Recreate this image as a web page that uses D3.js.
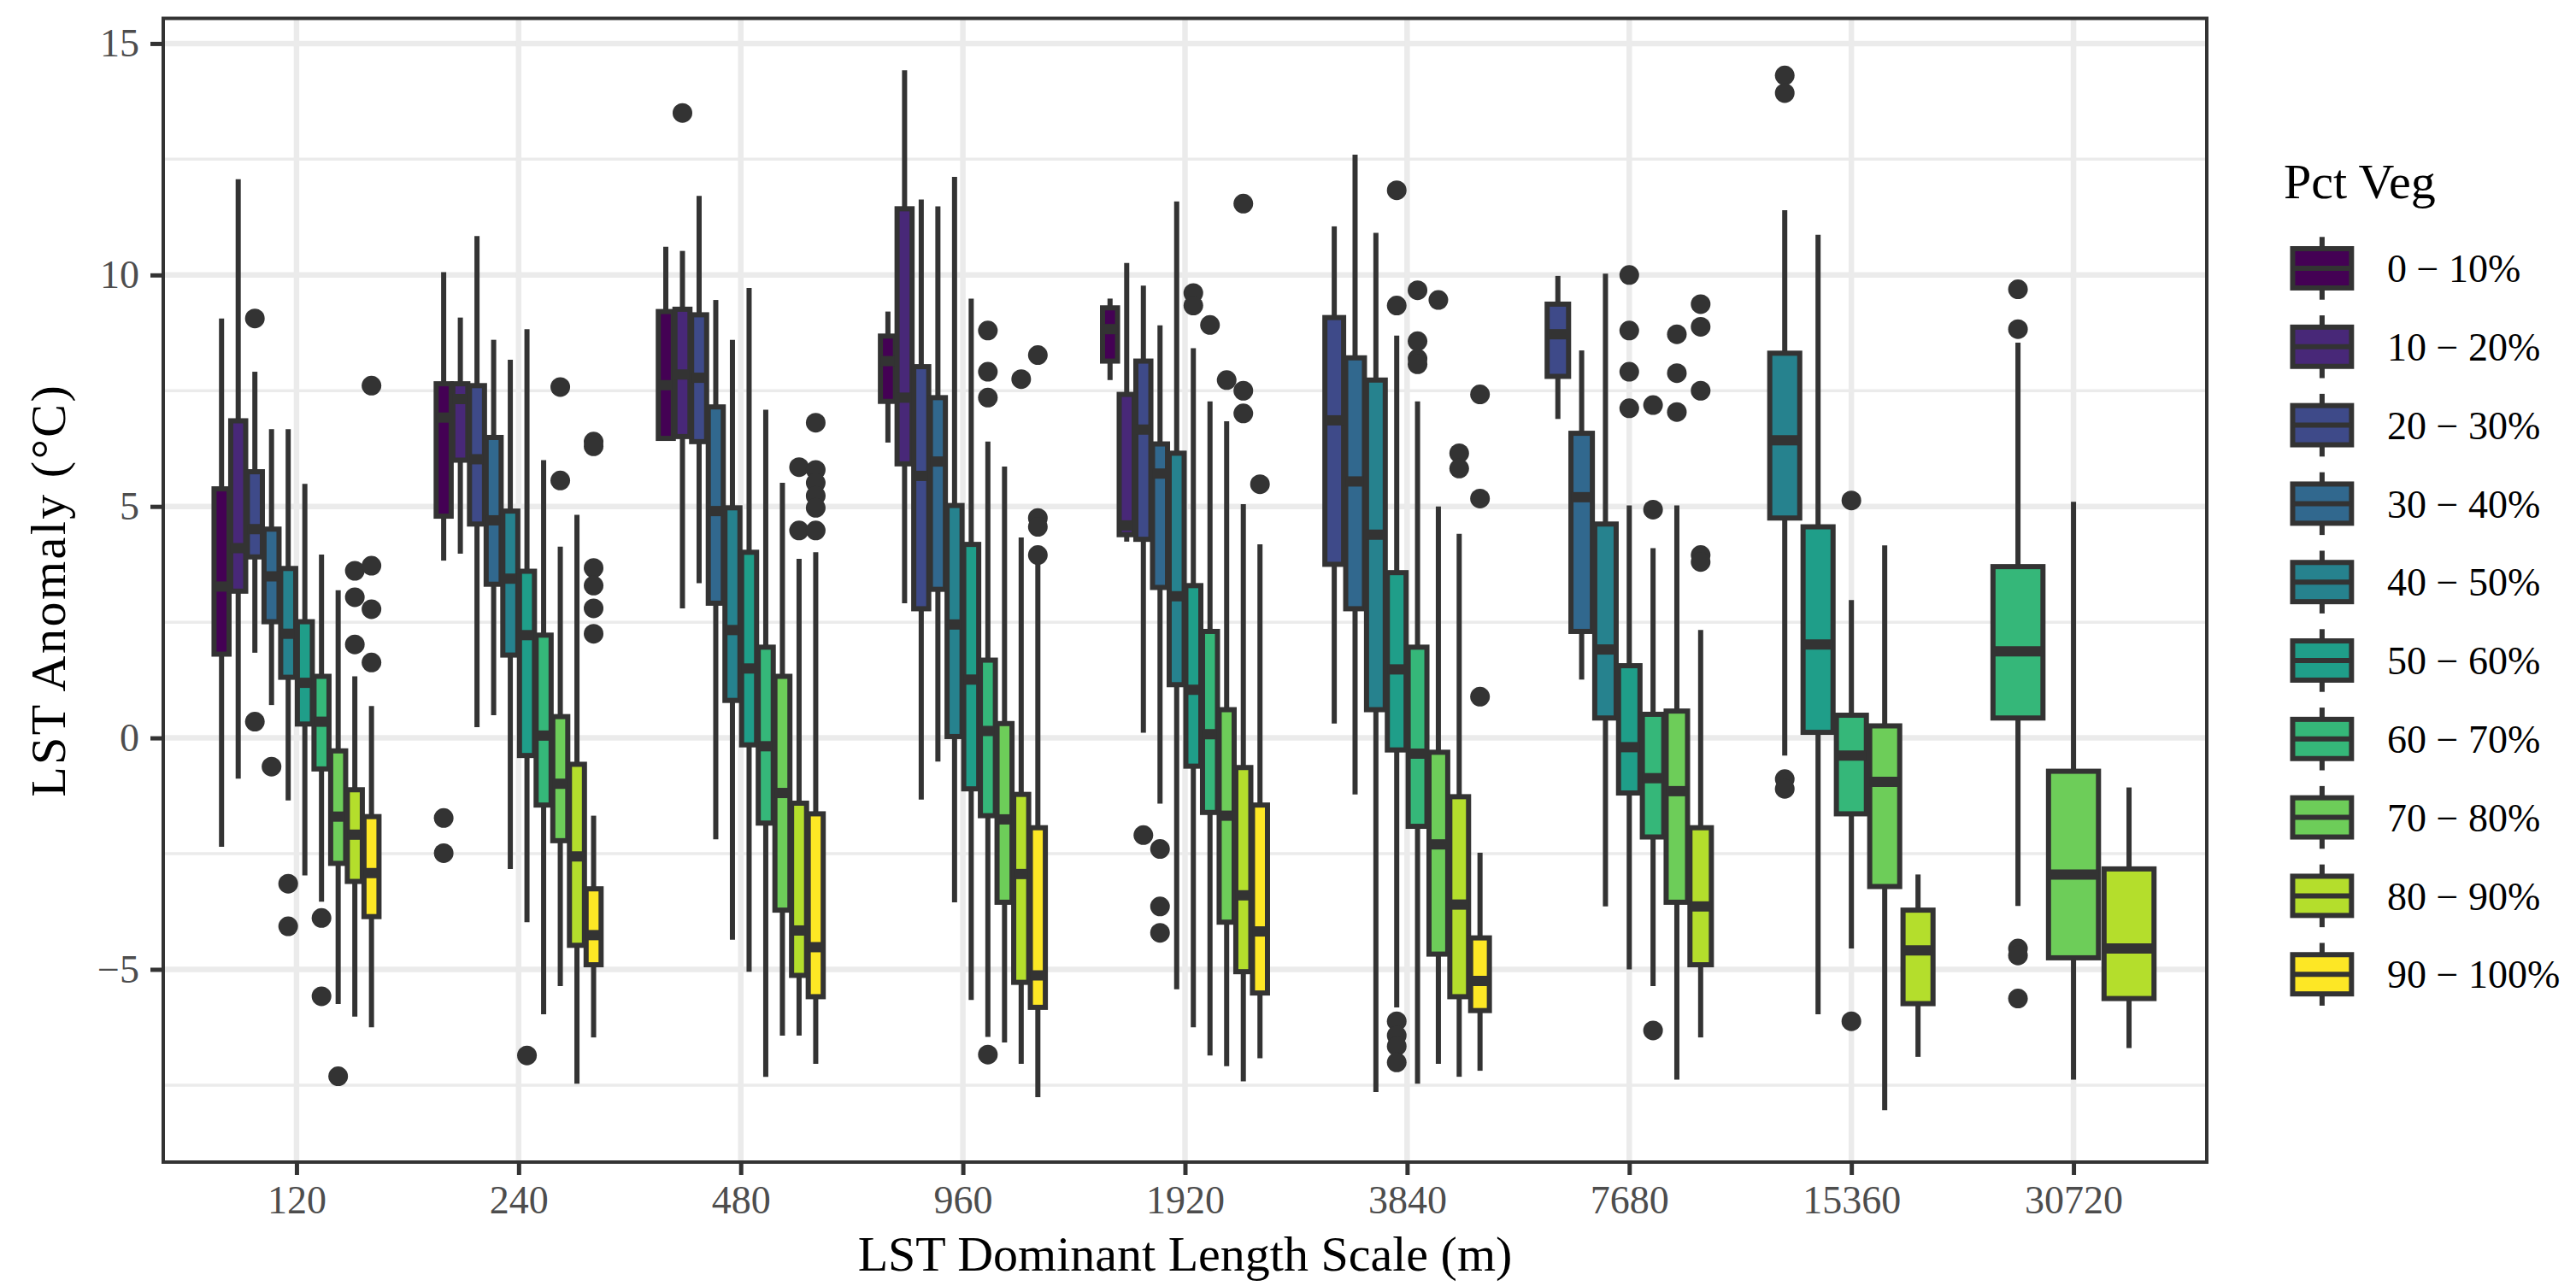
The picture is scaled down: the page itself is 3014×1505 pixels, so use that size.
<!DOCTYPE html>
<html>
<head>
<meta charset="utf-8">
<script src="https://cdn.jsdelivr.net/npm/d3@7"></script>
<style>
  body { margin: 0; background: #ffffff; }
  svg { display: block; }
</style>
</head>
<body>
<svg id="chart" width="3014" height="1505"></svg>
<script>
// ---------------- DATA ----------------
const groups = ["120", "240", "480", "960", "1920", "3840", "7680", "15360", "30720"];
const vegLevels = ["0 − 10%", "10 − 20%", "20 − 30%", "30 − 40%", "40 − 50%",
                   "50 − 60%", "60 − 70%", "70 − 80%", "80 − 90%", "90 − 100%"];
const yTicks = [-5, 0, 5, 10, 15];
const yTickLabels = ["−5", "0", "5", "10", "15"];
const yMinor = [-7.5, -2.5, 2.5, 7.5, 12.5];

// rows: [veg level index, lower whisker, Q1, median, Q3, upper whisker]
const stats120 = [
  [0, -2.35, 1.81, 3.27, 5.38, 9.06],
  [1, -0.88, 3.17, 4.10, 6.85, 12.07],
  [2, 1.84, 3.91, 4.51, 5.75, 7.91],
  [3, 0.71, 2.51, 3.49, 4.51, 6.67],
  [4, -1.35, 1.31, 2.25, 3.66, 6.67],
  [5, -2.97, 0.30, 1.19, 2.51, 5.49],
  [6, -3.54, -0.67, 0.35, 1.33, 3.96],
  [7, -5.75, -2.71, -1.70, -0.28, 3.19],
  [8, -6.02, -3.10, -2.09, -1.12, 1.33],
  [9, -6.25, -3.86, -2.92, -1.70, 0.69]
];
const stats240 = [
  [0, 3.83, 4.79, 6.92, 7.65, 10.06],
  [1, 3.98, 6.00, 7.32, 7.65, 9.08],
  [2, 0.23, 4.62, 6.02, 7.61, 10.84],
  [3, 0.49, 3.32, 4.70, 6.49, 8.60],
  [4, -2.83, 1.79, 3.44, 4.90, 8.17],
  [5, -3.98, -0.38, 2.22, 3.60, 8.83],
  [6, -5.97, -1.45, 0.05, 2.22, 6.00],
  [7, -5.36, -2.22, -0.99, 0.46, 4.13],
  [8, -7.47, -4.48, -2.56, -0.57, 4.82],
  [9, -6.47, -4.90, -4.26, -3.26, -1.68]
];
const stats480 = [
  [0, 6.45, 6.47, 7.62, 9.21, 10.61],
  [1, 2.80, 6.51, 7.85, 9.26, 10.52],
  [2, 3.34, 6.40, 7.78, 9.14, 11.71],
  [3, -2.19, 2.91, 4.90, 7.15, 9.46],
  [4, -4.36, 0.81, 2.33, 4.97, 8.60],
  [5, -5.05, -0.15, 1.50, 4.01, 9.72],
  [6, -7.32, -1.84, -0.18, 1.96, 7.09],
  [7, -6.43, -3.72, -1.19, 1.33, 5.51],
  [8, -6.43, -5.13, -4.16, -1.41, 3.87],
  [9, -7.04, -5.59, -4.52, -1.64, 4.01]
];
const stats960 = [
  [0, 6.38, 7.27, 8.14, 8.68, 9.21],
  [1, 2.91, 5.92, 7.35, 11.43, 14.42],
  [2, -1.33, 2.79, 5.66, 8.02, 11.63],
  [3, -0.51, 3.21, 5.97, 7.35, 11.48],
  [4, -3.55, 0.03, 2.45, 5.02, 12.12],
  [5, -5.66, -1.10, 1.26, 4.18, 9.49],
  [6, -6.46, -1.68, 0.15, 1.68, 6.40],
  [7, -6.58, -3.55, -1.76, 0.31, 5.86],
  [8, -7.04, -5.28, -2.94, -1.22, 4.33],
  [9, -7.76, -5.82, -5.13, -1.94, 3.83]
];
const stats1920 = [
  [0, 7.73, 8.14, 8.83, 9.29, 9.49],
  [1, 4.24, 4.39, 4.59, 7.42, 10.26],
  [2, 0.11, 4.29, 6.66, 8.14, 9.77],
  [3, -1.42, 3.25, 5.71, 6.35, 8.91],
  [4, -5.43, 1.15, 3.06, 6.15, 11.59],
  [5, -6.25, -0.61, 1.04, 3.29, 8.42],
  [6, -6.86, -1.61, 0.08, 2.30, 7.27],
  [7, -7.09, -3.98, -1.68, 0.61, 6.84],
  [8, -7.42, -5.05, -3.40, -0.64, 5.05],
  [9, -6.92, -5.51, -4.18, -1.45, 4.18]
];
const stats3840 = [
  [2, 0.31, 3.75, 6.86, 9.08, 11.05],
  [3, -1.22, 2.79, 5.54, 8.21, 12.60],
  [4, -7.65, 0.61, 4.39, 7.73, 10.91],
  [5, -5.82, -0.26, 1.48, 3.57, 8.69],
  [6, -7.47, -1.91, -0.34, 1.96, 7.27],
  [7, -7.04, -4.67, -2.30, -0.31, 5.00],
  [8, -7.32, -5.59, -3.60, -1.27, 4.41],
  [9, -7.19, -5.89, -5.25, -4.32, -2.48]
];
const stats7680 = [
  [2, 6.89, 7.81, 8.72, 9.37, 9.98],
  [3, 1.26, 2.30, 5.20, 6.58, 8.37],
  [4, -3.64, 0.43, 1.91, 4.62, 10.03],
  [5, -5.00, -1.19, -0.20, 1.56, 5.02],
  [6, -5.36, -2.14, -0.87, 0.51, 4.10],
  [7, -7.38, -3.55, -1.15, 0.58, 5.02],
  [8, -6.47, -4.90, -3.64, -1.94, 2.33]
];
const stats15360 = [
  [4, -0.38, 4.75, 6.43, 8.31, 11.40],
  [5, -5.97, 0.12, 2.02, 4.56, 10.87],
  [6, -4.55, -1.64, -0.38, 0.49, 2.98],
  [7, -8.04, -3.21, -0.95, 0.26, 4.16],
  [8, -6.89, -5.74, -4.59, -3.72, -2.95]
];
const stats30720 = [
  [6, -3.63, 0.43, 1.87, 3.70, 8.54],
  [7, -7.38, -4.75, -2.95, -0.72, 5.10],
  [8, -6.70, -5.63, -4.55, -2.83, -1.07]
];

// outliers: [veg level index, value]
const out120 = [[2, 9.06], [2, 0.35], [3, -0.62], [4, -3.15], [4, -4.07],
  [6, -3.89], [6, -5.58], [7, -7.31], [8, 3.61], [8, 3.04], [8, 2.02],
  [9, 7.61], [9, 3.72], [9, 2.78], [9, 1.63]];
const out240 = [[0, -1.73], [0, -2.49], [5, -6.86], [7, 7.58], [7, 5.56],
  [9, 6.40], [9, 6.30], [9, 3.67], [9, 3.29], [9, 2.80], [9, 2.25]];
const out480 = [[1, 13.50], [8, 5.85], [8, 4.48],
  [9, 6.81], [9, 5.79], [9, 5.51], [9, 5.23], [9, 4.97], [9, 4.48]];
const out960 = [[6, 8.80], [6, 7.91], [6, 7.35], [6, -6.84], [8, 7.75],
  [9, 8.27], [9, 4.75], [9, 4.56], [9, 3.95]];
const out1920 = [[2, -2.10], [3, -2.40], [3, -3.64], [3, -4.21], [5, 9.61], [5, 9.34],
  [6, 8.92], [7, 7.73], [8, 11.54], [8, 7.50], [8, 7.01], [9, 5.48]];
const out3840 = [[5, 11.83], [5, 9.34], [5, -6.12], [5, -6.43], [5, -6.66], [5, -7.01],
  [6, 9.67], [6, 8.57], [6, 8.19], [6, 8.07], [7, 9.46], [8, 6.15], [8, 5.82],
  [9, 7.42], [9, 5.17], [9, 0.89]];
const out7680 = [[5, 10.00], [5, 8.80], [5, 7.91], [5, 7.12], [6, 7.19], [6, 4.93], [6, -6.32],
  [7, 8.72], [7, 7.88], [7, 7.04], [8, 9.37], [8, 8.88], [8, 7.50], [8, 3.95], [8, 3.80]];
const out15360 = [[4, 14.31], [4, 13.93], [4, -0.89], [4, -1.10], [6, 5.13], [6, -6.12]];
const out30720 = [[6, 9.69], [6, 8.83], [6, -4.55], [6, -4.70], [6, -5.63]];

const groupStats = [stats120, stats240, stats480, stats960, stats1920, stats3840, stats7680, stats15360, stats30720];
const groupOutliers = [out120, out240, out480, out960, out1920, out3840, out7680, out15360, out30720];

// ---------------- STYLE ----------------
const palette = ["#440154", "#482878", "#3E4A89", "#31688E", "#26828E",
                 "#1F9E89", "#35B779", "#6DCD59", "#B4DE2C", "#FDE725"];
const FONT = "'Liberation Serif', 'DejaVu Serif', serif";
const INK = "#333333";
const LW = 6;

const panel = { left: 191, right: 2582, top: 21.5, bottom: 1360 };
const svg = d3.select("#chart");
svg.append("rect").attr("width", 3014).attr("height", 1505).attr("fill", "#ffffff");

// scales
const allVals = [];
groupStats.forEach(gs => gs.forEach(r => allVals.push(r[1], r[5])));
groupOutliers.forEach(go => go.forEach(o => allVals.push(o[1])));
const [vmin, vmax] = d3.extent(allVals);
const vpad = (vmax - vmin) * 0.05;

const x = d3.scalePoint().domain(groups).range([panel.left, panel.right]).padding(0.6);
const y = d3.scaleLinear().domain([vmin - vpad, vmax + vpad]).range([panel.bottom, panel.top]);
const color = d3.scaleOrdinal().domain(d3.range(vegLevels.length)).range(palette);

// grid
const grid = svg.append("g");
grid.selectAll("line.minor").data(yMinor).join("line")
  .attr("x1", panel.left).attr("x2", panel.right)
  .attr("y1", d => y(d)).attr("y2", d => y(d))
  .attr("stroke", "#EBEBEB").attr("stroke-width", 3.5);
grid.selectAll("line.majorY").data(yTicks).join("line")
  .attr("x1", panel.left).attr("x2", panel.right)
  .attr("y1", d => y(d)).attr("y2", d => y(d))
  .attr("stroke", "#EBEBEB").attr("stroke-width", 6.5);
grid.selectAll("line.majorX").data(groups).join("line")
  .attr("x1", d => x(d)).attr("x2", d => x(d))
  .attr("y1", panel.top).attr("y2", panel.bottom)
  .attr("stroke", "#EBEBEB").attr("stroke-width", 6.5);

// boxes
const marks = svg.append("g");
groups.forEach((g, gi) => {
  const rows = groupStats[gi];
  const half = 0.375 * x.step();
  const inner = d3.scaleBand()
    .domain(rows.map(r => r[0]))
    .range([x(g) - half, x(g) + half])
    .paddingInner(0.1).paddingOuter(0.05);
  const bw = inner.bandwidth();
  rows.forEach(r => {
    const [lvl, lo, q1, med, q3, hi] = r;
    const cx = inner(lvl) + bw / 2;
    const gBox = marks.append("g");
    // outliers
    gBox.selectAll("circle").data(groupOutliers[gi].filter(o => o[0] === lvl)).join("circle")
      .attr("cx", cx).attr("cy", o => y(o[1])).attr("r", 11.5).attr("fill", INK);
    // whiskers
    gBox.append("line").attr("x1", cx).attr("x2", cx).attr("y1", y(q3)).attr("y2", y(hi))
      .attr("stroke", INK).attr("stroke-width", LW);
    gBox.append("line").attr("x1", cx).attr("x2", cx).attr("y1", y(q1)).attr("y2", y(lo))
      .attr("stroke", INK).attr("stroke-width", LW);
    // box
    gBox.append("rect").attr("x", inner(lvl)).attr("width", bw)
      .attr("y", y(q3)).attr("height", y(q1) - y(q3))
      .attr("fill", color(lvl)).attr("stroke", INK).attr("stroke-width", LW);
    // median
    gBox.append("line").attr("x1", inner(lvl)).attr("x2", inner(lvl) + bw)
      .attr("y1", y(med)).attr("y2", y(med))
      .attr("stroke", INK).attr("stroke-width", LW * 2);
  });
});

// panel border
svg.append("rect").attr("x", panel.left).attr("y", panel.top)
  .attr("width", panel.right - panel.left).attr("height", panel.bottom - panel.top)
  .attr("fill", "none").attr("stroke", INK).attr("stroke-width", 4);

// axes
const yAxis = svg.append("g").attr("transform", `translate(${panel.left},0)`)
  .call(d3.axisLeft(y).tickValues(yTicks).tickFormat((d, i) => yTickLabels[i]).tickSize(15).tickPadding(13));
const xAxis = svg.append("g").attr("transform", `translate(0,${panel.bottom})`)
  .call(d3.axisBottom(x).tickSize(15).tickPadding(12));
[yAxis, xAxis].forEach(a => {
  a.select(".domain").remove();
  a.selectAll(".tick line").attr("stroke", INK).attr("stroke-width", 5);
  a.selectAll(".tick text").attr("fill", "#4D4D4D").style("font-family", FONT).style("font-size", "46px");
});

// axis titles
svg.append("text")
  .attr("transform", `translate(76,${(panel.top + panel.bottom) / 2}) rotate(-90)`)
  .attr("text-anchor", "middle").attr("fill", "#000")
  .style("font-family", FONT).style("font-size", "58px").style("letter-spacing", "2.5px")
  .text("LST Anomaly (°C)");
svg.append("text")
  .attr("x", (panel.left + panel.right) / 2).attr("y", 1487)
  .attr("text-anchor", "middle").attr("fill", "#000")
  .style("font-family", FONT).style("font-size", "58px")
  .text("LST Dominant Length Scale (m)");

// legend
const legend = svg.append("g");
legend.append("text").attr("x", 2672).attr("y", 232)
  .attr("fill", "#000").style("font-family", FONT).style("font-size", "58px")
  .text("Pct Veg");
const keySize = 91.8;
const keyLeft = 2671;
const keyY = d3.scaleLinear().domain([0, 1]).range([314, 314 + keySize]);
vegLevels.forEach((lab, i) => {
  const cy = keyY(i);
  const top = cy - keySize / 2;
  const k = legend.append("g");
  k.append("line").attr("x1", keyLeft + keySize / 2).attr("x2", keyLeft + keySize / 2)
    .attr("y1", top + 0.1 * keySize).attr("y2", top + 0.9 * keySize)
    .attr("stroke", INK).attr("stroke-width", LW);
  k.append("rect").attr("x", keyLeft + 0.125 * keySize).attr("width", 0.75 * keySize)
    .attr("y", top + 0.25 * keySize).attr("height", 0.5 * keySize)
    .attr("fill", color(i)).attr("stroke", INK).attr("stroke-width", LW);
  k.append("line").attr("x1", keyLeft + 0.125 * keySize).attr("x2", keyLeft + 0.875 * keySize)
    .attr("y1", cy).attr("y2", cy).attr("stroke", INK).attr("stroke-width", LW);
  k.append("text").attr("x", 2793).attr("y", cy).attr("dy", "0.35em")
    .attr("fill", "#000").style("font-family", FONT).style("font-size", "46px")
    .text(lab);
});
</script>
</body>
</html>
